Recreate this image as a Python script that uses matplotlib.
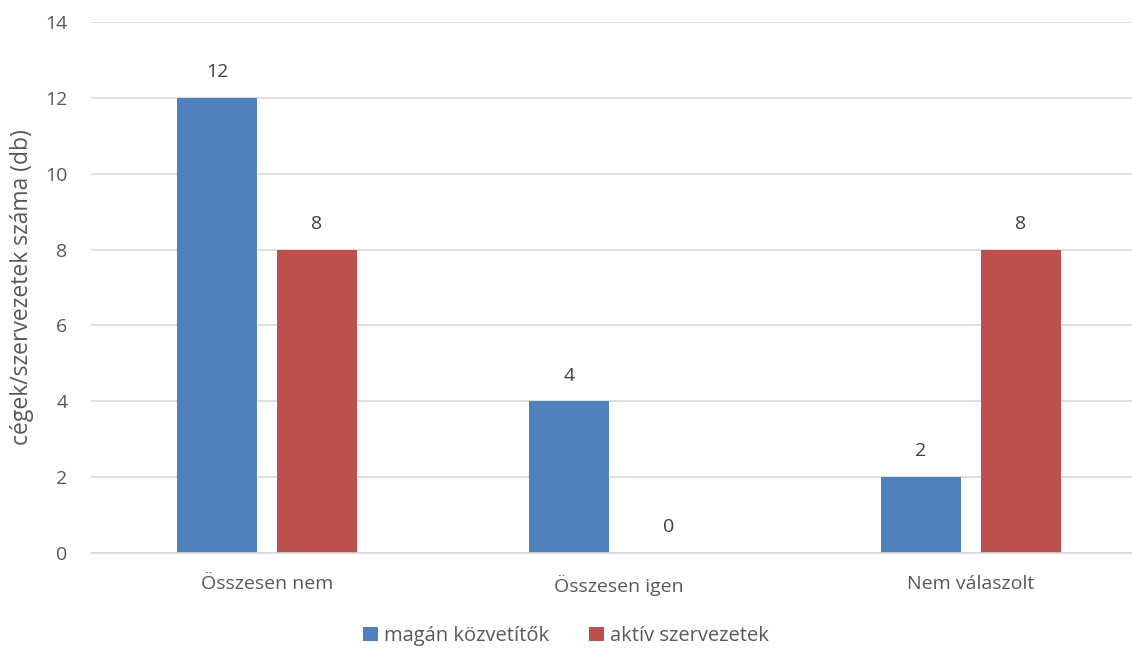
import matplotlib

matplotlib.use("Agg")
import matplotlib.pyplot as plt
import numpy as np

categories = ["Összesen nem", "Összesen igen", "Nem válaszolt"]
magan = [12, 4, 2]
aktiv = [8, 0, 8]
series_names = ["magán közvetítők", "aktív szervezetek"]
colors = ["#4F81BD", "#C0504D"]
text_color = "#595959"

plt.rcParams["font.family"] = ["Open Sans", "DejaVu Sans"]

fig = plt.figure(figsize=(11.32, 6.48), dpi=100)
ax = fig.add_axes([91 / 1132, 1 - 553 / 648, 1056 / 1132, 531 / 648])

x = np.arange(len(categories))
width = 0.227
offset = 0.142
b1 = ax.bar(x - offset, magan, width, color=colors[0], label=series_names[0], zorder=2)
b2 = ax.bar(x + offset, aktiv, width, color=colors[1], label=series_names[1], zorder=2)
for bars in (b1, b2):
    ax.bar_label(bars, padding=12, fontsize=14, color="#404040")

ax.set_xlim(-0.5, 2.5)
ax.set_ylim(0, 14)
ax.set_yticks(range(0, 15, 2))
ax.set_xticks(x)
ax.set_xticklabels(categories)
ax.grid(axis="y", color="#D9D9D9", linewidth=1.2, zorder=0)
ax.tick_params(length=0, labelsize=14, colors=text_color)
ax.tick_params(axis="x", pad=16)
ax.tick_params(axis="y", pad=17)
for side in ("top", "right", "left"):
    ax.spines[side].set_visible(False)
ax.spines["bottom"].set_color("#D9D9D9")
ax.spines["bottom"].set_linewidth(1.2)
ax.set_ylabel("cégek/szervezetek száma (db)", fontsize=16.5, color=text_color, labelpad=8)

fig.legend(handles=[b1, b2], loc="center", bbox_to_anchor=(0.5, 1 - 636 / 648), ncol=2,
           frameon=False, fontsize=14.5, labelcolor=text_color, handlelength=0.75,
           handleheight=0.75, handletextpad=0.3, columnspacing=2.0)

fig.savefig("out.png", dpi=100)
